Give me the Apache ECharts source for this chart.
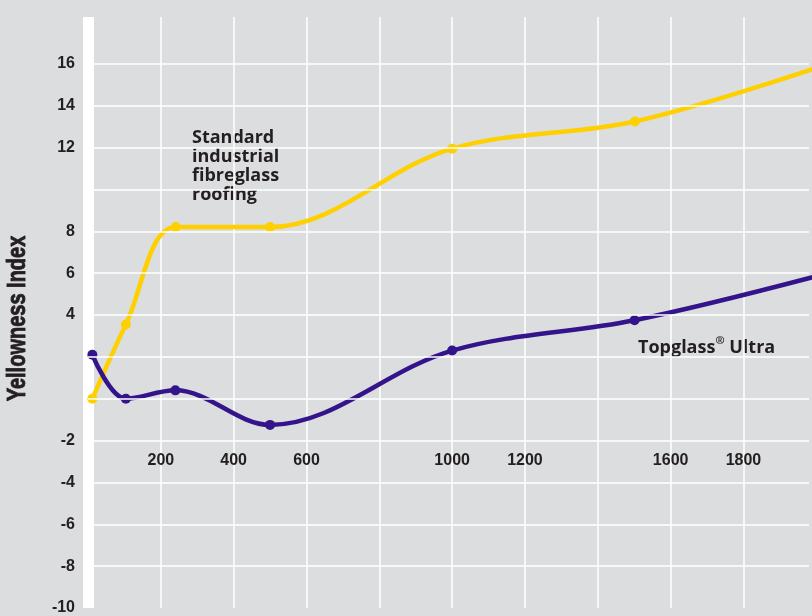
<!DOCTYPE html>
<html>
<head>
<meta charset="utf-8">
<script src="https://cdn.jsdelivr.net/npm/echarts@6/dist/echarts.min.js"></script>
<style>
  html, body { margin: 0; padding: 0; background: #dcdddf; }
  #chart { width: 812px; height: 616px; }
</style>
</head>
<body>
<div id="chart"></div>
<script>
// exposure (x) and yellowness values
const standardX = [12, 104, 241, 500, 1000, 1502, 2000]
const standardY = [0.0, 3.55, 8.2, 8.2, 11.95, 13.25, 15.8]
const topglassX = [12, 104, 240, 500, 1000, 1501, 2000]
const topglassY = [2.1, 0.0, 0.4, -1.25, 2.3, 3.75, 5.85]

const xLabels = [200, 400, 600, 1000, 1200, 1600, 1800]
const yLabels = [16, 14, 12, 8, 6, 4, -2, -4, -6, -8, -10]
// horizontal grid lines (none above 16)
const gridY = [-8, -6, -4, -2, 0, 2, 4, 6, 8, 10, 12, 14, 16]

const ink = '#231f20'
const chart = echarts.init(document.getElementById('chart'))

const pairs = (xs, ys) => xs.map((x, i) => [x, ys[i]])

const tickFont = {
    color: ink,
    fontWeight: 'bold',
    fontSize: 16,
    fontFamily: 'Liberation Sans, Arial, sans-serif'
}

const option = {
    backgroundColor: '#dcdddf',
    animation: false,
    grid: {
        left: 88,
        right: 0,
        top: 17,
        bottom: 6
    },
    xAxis: {
        type: 'value',
        min: 0,
        max: 1980,
        interval: 200,
        position: 'bottom',
        offset: -161,
        axisLine: { show: false },
        axisTick: { show: false },
        axisLabel: Object.assign({
            margin: 6,
            formatter: v => xLabels.indexOf(v) >= 0 ? String(v) : ''
        }, tickFont),
        splitLine: {
            showMinLine: false,
            showMaxLine: false,
            lineStyle: { color: '#ffffff', width: 1.5 }
        }
    },
    yAxis: {
        type: 'value',
        min: -10,
        max: 18.24,
        interval: 2,
        axisLine: {
            show: true,
            onZero: false,
            lineStyle: { color: '#ffffff', width: 11, cap: 'butt' }
        },
        axisTick: { show: false },
        axisLabel: Object.assign({
            margin: 13,
            formatter: v => yLabels.indexOf(v) >= 0 ? String(v) : ''
        }, tickFont),
        splitLine: { show: false }
    },
    series: [
        {
            name: 'grid',
            type: 'line',
            data: [],
            z: 1,
            silent: true,
            markLine: {
                silent: true,
                symbol: ['none', 'none'],
                label: { show: false },
                emphasis: { disabled: true },
                lineStyle: { color: '#ffffff', width: 1.5, type: 'solid' },
                data: gridY.map(v => ({ yAxis: v }))
            }
        },
        {
            name: 'Standard industrial fibreglass roofing',
            type: 'line',
            data: pairs(standardX, standardY),
            smooth: 0.35,
            symbol: 'circle',
            symbolSize: 10,
            itemStyle: { color: '#ffd000' },
            lineStyle: { color: '#ffd000', width: 4.5 }
        },
        {
            name: 'Topglass® Ultra',
            type: 'line',
            data: pairs(topglassX, topglassY),
            smooth: 0.35,
            symbol: 'circle',
            symbolSize: 10,
            itemStyle: { color: '#33148a' },
            lineStyle: { color: '#33148a', width: 4.5 }
        }
    ],
    graphic: [
        {
            type: 'text',
            left: 192,
            top: 128,
            style: {
                text: 'Standard\nindustrial\nfibreglass\nroofing',
                fill: ink,
                font: 'bold 18px "Open Sans", sans-serif',
                lineHeight: 19
            }
        },
        {
            type: 'text',
            left: 638,
            top: 335,
            style: {
                text: '{a|Topglass}{r|®}{a| Ultra}',
                rich: {
                    a: {
                        fill: ink,
                        font: 'bold 18px "Open Sans", sans-serif',
                        lineHeight: 22,
                        verticalAlign: 'bottom'
                    },
                    r: {
                        fill: ink,
                        font: 'bold 11px "Open Sans", sans-serif',
                        lineHeight: 22,
                        verticalAlign: 'top'
                    }
                }
            }
        },
        {
            type: 'text',
            x: 18.5,
            y: 318.5,
            rotation: Math.PI / 2,
            scaleX: 0.8,
            style: {
                text: 'Yellowness Index',
                fill: ink,
                stroke: ink,
                lineWidth: 0.9,
                font: 'bold 25px "Liberation Sans", Arial, sans-serif',
                align: 'center',
                verticalAlign: 'middle'
            }
        }
    ]
}

chart.setOption(option)
</script>
</body>
</html>
